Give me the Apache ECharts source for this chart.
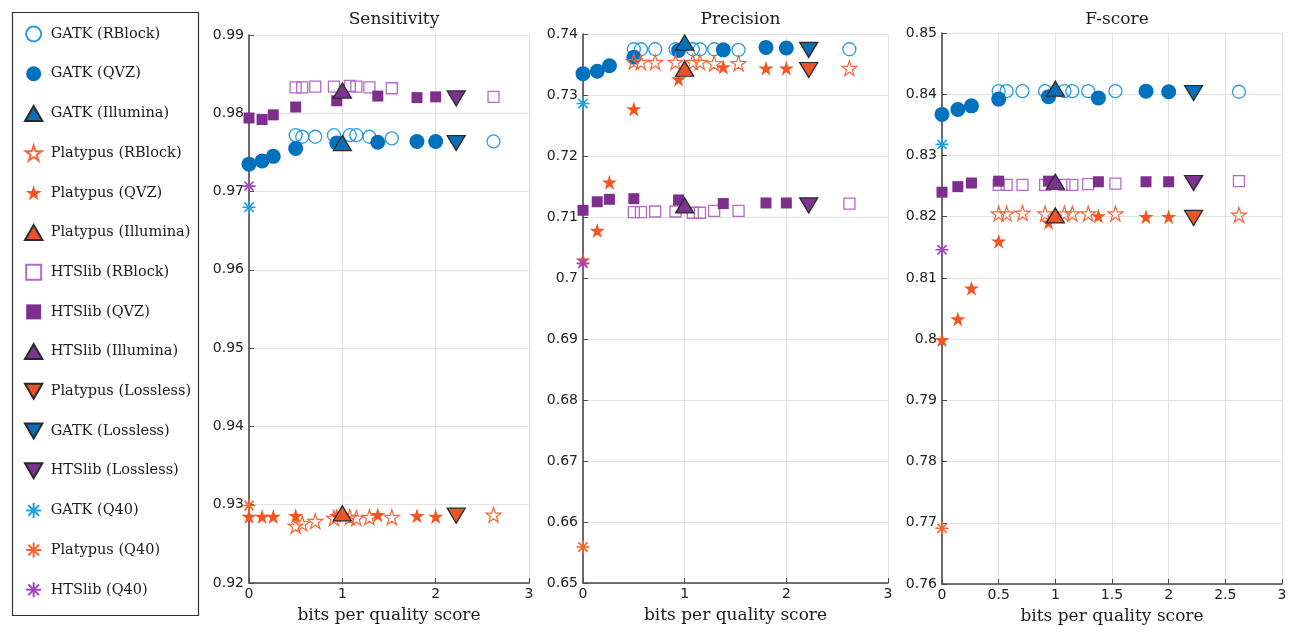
<!DOCTYPE html>
<html><head><meta charset="utf-8">
<script src="https://cdn.jsdelivr.net/npm/echarts@6/dist/echarts.min.js"></script>
<style>html,body{margin:0;padding:0;background:#fff}#c{width:1292px;height:632px}</style>
</head><body><div id="c"></div>
<script>
// ---- x positions (bits per quality score) ----
const qvzX = [0, 0.14, 0.26, 0.5, 0.94, 1.38, 1.8, 2.0];
const rblockX = [0.5, 0.57, 0.71, 0.91, 1.08, 1.15, 1.29, 1.53, 2.62];
const illuminaX = 1.0;
const losslessX = 2.22;
const q40X = 0;

// ---- Sensitivity ----
const sensGatkRBlock = [0.9772, 0.9770, 0.9770, 0.9772, 0.9772, 0.9772, 0.9770, 0.9768, 0.9764];
const sensGatkQVZ = [0.9735, 0.9739, 0.9745, 0.9755, 0.9762, 0.9763, 0.9764, 0.9764];
const sensPlatRBlock = [0.9273, 0.9276, 0.9279, 0.9283, 0.9284, 0.9283, 0.9284, 0.9284, 0.9287];
const sensPlatQVZ = [0.9285, 0.9285, 0.9285, 0.9286, 0.9286, 0.9287, 0.9286, 0.9285];
const sensHtsRBlock = [0.9833, 0.9833, 0.9834, 0.9834, 0.9835, 0.9834, 0.9833, 0.9832, 0.9821];
const sensHtsQVZ = [0.9794, 0.9792, 0.9798, 0.9808, 0.9816, 0.9822, 0.9820, 0.9821];
const sensIllumina = [0.9762, 0.9289, 0.9829];   // GATK, Platypus, HTSlib
const sensLossless = [0.9762, 0.9286, 0.9819];
const sensQ40 = [0.9680, 0.9299, 0.9707];

// ---- Precision ----
const precGatkRBlock = [0.7375, 0.7375, 0.7375, 0.7375, 0.7375, 0.7375, 0.7375, 0.7374, 0.7375];
const precGatkQVZ = [0.7335, 0.7339, 0.7348, 0.7362, 0.7373, 0.7374, 0.7378, 0.7377];
const precPlatRBlock = [0.7355, 0.7354, 0.7354, 0.7354, 0.7354, 0.7354, 0.7352, 0.7352, 0.7344];
const precPlatQVZ = [0.7029, 0.7078, 0.7157, 0.7277, 0.7326, 0.7346, 0.7344, 0.7344];
const precHtsRBlock = [0.7108, 0.7108, 0.7109, 0.7109, 0.7107, 0.7107, 0.7110, 0.7110, 0.7122];
const precHtsQVZ = [0.7111, 0.7125, 0.7129, 0.7130, 0.7128, 0.7122, 0.7123, 0.7123];
const precIllumina = [0.7386, 0.7343, 0.7119];
const precLossless = [0.7374, 0.7341, 0.7119];
const precQ40 = [0.7286, 0.6559, 0.7024];

// ---- F-score ----
const fGatkRBlock = [0.8405, 0.8405, 0.8405, 0.8405, 0.8405, 0.8405, 0.8405, 0.8405, 0.8404];
const fGatkQVZ = [0.8367, 0.8375, 0.8381, 0.8392, 0.8396, 0.8394, 0.8405, 0.8404];
const fPlatRBlock = [0.8205, 0.8205, 0.8206, 0.8205, 0.8205, 0.8205, 0.8205, 0.8205, 0.8203];
const fPlatQVZ = [0.7999, 0.8033, 0.8083, 0.8160, 0.8191, 0.8201, 0.8200, 0.8200];
const fHtsRBlock = [0.8252, 0.8252, 0.8252, 0.8252, 0.8252, 0.8252, 0.8253, 0.8254, 0.8258];
const fHtsQVZ = [0.8240, 0.8249, 0.8255, 0.8258, 0.8258, 0.8257, 0.8257, 0.8257];
const fIllumina = [0.8409, 0.8202, 0.8257];
const fLossless = [0.8402, 0.8198, 0.8255];
const fQ40 = [0.8318, 0.7691, 0.8146];

const panelTitles = ['Sensitivity', 'Precision', 'F-score'];
const xLabel = 'bits per quality score';
const legendNames = ['GATK (RBlock)','GATK (QVZ)','GATK (Illumina)','Platypus (RBlock)','Platypus (QVZ)','Platypus (Illumina)','HTSlib (RBlock)','HTSlib (QVZ)','HTSlib (Illumina)','Platypus (Lossless)','GATK (Lossless)','HTSlib (Lossless)','GATK (Q40)','Platypus (Q40)','HTSlib (Q40)'];

// ---- styles ----
const STAR = 'path://M10,0 L12.245,6.91 L19.511,6.91 L13.633,11.18 L15.878,18.09 L10,13.82 L4.122,18.09 L6.367,11.18 L0.489,6.91 L7.755,6.91 Z';
const ASTER = 'path://M10,0 L10,20 M0,10 L20,10 M2.93,2.93 L17.07,17.07 M17.07,2.93 L2.93,17.07';
const UP = 'path://M10,0 L20,17.32 L0,17.32 Z';
const DOWN = 'path://M0,0 L20,0 L10,17.32 Z';
const SQUARE = 'path://M0,0 L10,0 L10,10 L0,10 Z';
const C = {gatk:'#0072bd', gatkL:'#2a9ddb', plat:'#f2551f', platL:'#f2683a', hts:'#7e2f8e', htsL:'#b36bc6'};
const EDGE = '#2a2a2a';
const styles = {
  'GATK (RBlock)': {symbol:'circle', size:13, item:{color:'rgba(0,0,0,0)', borderColor:C.gatkL, borderWidth:1.3}},
  'GATK (QVZ)': {symbol:'circle', size:15, item:{color:C.gatk}},
  'GATK (Illumina)': {symbol:UP, size:[18,15], item:{color:'#0b6fb8', borderColor:EDGE, borderWidth:1.3}},
  'Platypus (RBlock)': {symbol:STAR, size:15, item:{color:'rgba(0,0,0,0)', borderColor:C.platL, borderWidth:1.2}},
  'Platypus (QVZ)': {symbol:STAR, size:15, item:{color:C.plat}},
  'Platypus (Illumina)': {symbol:UP, size:[18,15], item:{color:'#ea5427', borderColor:EDGE, borderWidth:1.3}},
  'HTSlib (RBlock)': {symbol:SQUARE, size:11, item:{color:'rgba(0,0,0,0)', borderColor:C.htsL, borderWidth:1.3}},
  'HTSlib (QVZ)': {symbol:SQUARE, size:11, item:{color:C.hts}},
  'HTSlib (Illumina)': {symbol:UP, size:[18,15], item:{color:'#7e3391', borderColor:EDGE, borderWidth:1.3}},
  'Platypus (Lossless)': {symbol:DOWN, size:[18,15], item:{color:'#ea5427', borderColor:EDGE, borderWidth:1.3}},
  'GATK (Lossless)': {symbol:DOWN, size:[18,15], item:{color:'#0b6fb8', borderColor:EDGE, borderWidth:1.3}},
  'HTSlib (Lossless)': {symbol:DOWN, size:[18,15], item:{color:'#7e3391', borderColor:EDGE, borderWidth:1.3}},
  'GATK (Q40)': {symbol:ASTER, size:13, item:{color:'#1ea0e6', borderColor:'#1ea0e6', borderWidth:1.6}},
  'Platypus (Q40)': {symbol:ASTER, size:13, item:{color:'#f5642f', borderColor:'#f5642f', borderWidth:1.6}},
  'HTSlib (Q40)': {symbol:ASTER, size:13, item:{color:'#9e48b8', borderColor:'#9e48b8', borderWidth:1.6}}
};

const panels = [
  {gr:sensGatkRBlock, gq:sensGatkQVZ, pr:sensPlatRBlock, pq:sensPlatQVZ, hr:sensHtsRBlock, hq:sensHtsQVZ, il:sensIllumina, lo:sensLossless, q4:sensQ40},
  {gr:precGatkRBlock, gq:precGatkQVZ, pr:precPlatRBlock, pq:precPlatQVZ, hr:precHtsRBlock, hq:precHtsQVZ, il:precIllumina, lo:precLossless, q4:precQ40},
  {gr:fGatkRBlock, gq:fGatkQVZ, pr:fPlatRBlock, pq:fPlatQVZ, hr:fHtsRBlock, hq:fHtsQVZ, il:fIllumina, lo:fLossless, q4:fQ40}
];
const pair = (xs, ys) => ys.map((y, i) => [xs[i], y]);

const series = [];
panels.forEach((p, k) => {
  const d = {
    'GATK (RBlock)': pair(rblockX, p.gr), 'GATK (QVZ)': pair(qvzX, p.gq), 'GATK (Illumina)': [[illuminaX, p.il[0]]],
    'Platypus (RBlock)': pair(rblockX, p.pr), 'Platypus (QVZ)': pair(qvzX, p.pq), 'Platypus (Illumina)': [[illuminaX, p.il[1]]],
    'HTSlib (RBlock)': pair(rblockX, p.hr), 'HTSlib (QVZ)': pair(qvzX, p.hq), 'HTSlib (Illumina)': [[illuminaX, p.il[2]]],
    'Platypus (Lossless)': [[losslessX, p.lo[1]]], 'GATK (Lossless)': [[losslessX, p.lo[0]]], 'HTSlib (Lossless)': [[losslessX, p.lo[2]]],
    'GATK (Q40)': [[q40X, p.q4[0]]], 'Platypus (Q40)': [[q40X, p.q4[1]]], 'HTSlib (Q40)': [[q40X, p.q4[2]]]
  };
  legendNames.forEach((n, j) => {
    const s = styles[n];
    series.push({type:'scatter', name:n, xAxisIndex:k, yAxisIndex:k, data:d[n], symbol:s.symbol,
      symbolSize:s.size, itemStyle:Object.assign({opacity:1}, s.item), z:2 + j * 0.01, silent:true, animation:false, emphasis:{disabled:true}});
  });
});

const grids = [
  {left:249, top:35, width:280, height:548},
  {left:583, top:34, width:305, height:549},
  {left:942, top:33, width:340, height:551}
];
const yRanges = [[0.92, 0.99], [0.65, 0.74], [0.76, 0.85]];
const xIntervals = [1, 1, 0.5];
const axisCol = '#4a4a4a';
const sans = 'DejaVu Sans';
const serif = 'DejaVu Serif';

const option = {
  backgroundColor:'#fff',
  animation:false,
  grid: grids,
  title: grids.map((g, k) => ({text:panelTitles[k], left:g.left + g.width / 2, top:6, textAlign:'center',
    textStyle:{fontFamily:serif, fontSize:17, fontWeight:'normal', color:'#1a1a1a'}})),
  xAxis: grids.map((g, k) => ({type:'value', gridIndex:k, min:0, max:3, interval:xIntervals[k],
    name:xLabel, nameLocation:'middle', nameGap:24, nameTextStyle:{fontFamily:serif, fontSize:17, color:'#1a1a1a'},
    axisLine:{lineStyle:{color:axisCol, width:1.6}}, axisTick:{inside:true, length:5, lineStyle:{color:axisCol}},
    axisLabel:{fontFamily:sans, fontSize:14, color:'#222', margin:4},
    splitLine:{show:true, lineStyle:{color:'#e2e2e2', width:1}}})),
  yAxis: grids.map((g, k) => ({type:'value', gridIndex:k, min:yRanges[k][0], max:yRanges[k][1], interval:0.01,
    axisLine:{show:true, lineStyle:{color:axisCol, width:1.6}}, axisTick:{show:true, inside:true, length:5, lineStyle:{color:axisCol}},
    axisLabel:{fontFamily:sans, fontSize:14, color:'#222', margin:5},
    splitLine:{show:true, lineStyle:{color:'#e2e2e2', width:1}}})),
  legend: {data:legendNames, orient:'vertical', left:24, top:25, padding:0, itemGap:21.7, itemWidth:24, itemHeight:15,
    selectedMode:false, textStyle:{fontFamily:serif, fontSize:14.5, color:'#1a1a1a', lineHeight:18, height:18}},
  graphic: [{type:'rect', left:10, top:10, shape:{width:186, height:603}, style:{fill:'none', stroke:'#333', lineWidth:1.2}, z:-1}],
  series: series
};
const chart = echarts.init(document.getElementById('c'), null, {renderer:'canvas'});
chart.setOption(option);
</script></body></html>
